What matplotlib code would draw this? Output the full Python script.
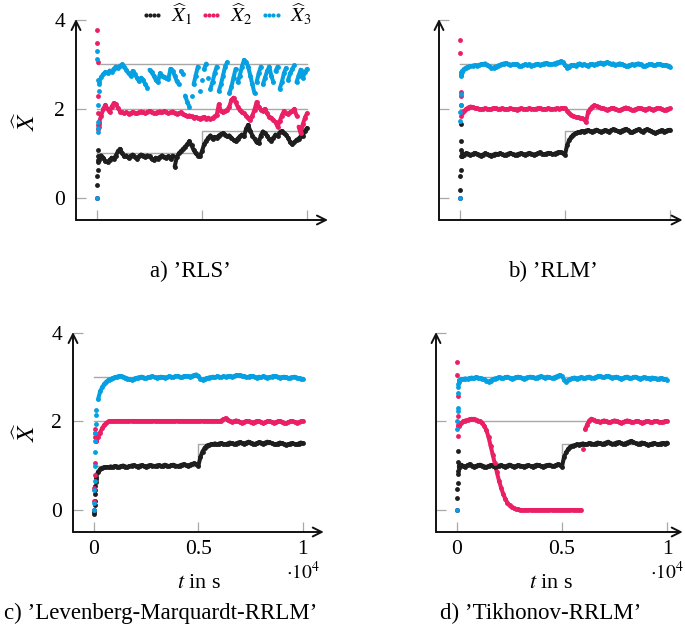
import numpy as np
import matplotlib
matplotlib.use("Agg")
import matplotlib.pyplot as plt
from matplotlib.collections import LineCollection
from matplotlib.lines import Line2D

plt.rcParams["font.family"] = ["Liberation Serif", "DejaVu Serif"]
plt.rcParams["mathtext.fontset"] = "stix"

BLACK = "#1e1e1e"
PINK = "#ea1f66"
BLUE = "#05a0e2"
GRAY = "#a8a8a8"

# sample times: first 90 s are the start-up samples, then every 100 s
t_start = [0, 10, 20, 30, 40, 50, 60, 70, 80, 90]
t_grid = np.arange(100, 10001, 100)

# true parameter values
true_t = [0, 5000, 5000, 10000]
true_x1 = [1.0, 1.0, 1.5, 1.5]
true_x2 = [2.0, 2.0, 2.0, 2.0]
true_x3 = [3.0, 3.0, 3.0, 3.0]

# a) RLS
rls_x1_start = [0.0, 0.29, 0.48, 0.63, 0.85, 1.08, 0.95, 0.80, 0.90, 0.85]
rls_x2_start = [0.0, 3.78, 3.49, 3.06, 2.28, 1.91, 1.64, 1.55, 1.60, 1.65]
rls_x3_start = [0.0, 3.31, 3.12, 2.65, 2.09, 1.57, 1.49, 1.70, 2.40, 2.55]
rls_x1 = [
    0.92, 0.95, 0.90, 0.82, 0.80, 0.85, 0.90, 0.88, 0.95, 1.05,
    1.10, 1.00, 0.93, 0.95, 0.90, 0.94, 0.97, 0.92, 0.88, 0.93,
    0.97, 0.95, 0.92, 0.95, 0.93, 0.88, 0.85, 0.90, 0.87, 0.92,
    0.95, 0.92, 0.90, 0.93, 0.88, 0.95, 0.70, 0.92, 1.00, 1.05,
    1.10, 1.15, 1.20, 1.27, 1.18, 1.08, 1.00, 0.95, 0.93, 1.05,
    1.20, 1.28, 1.35, 1.40, 1.33, 1.37, 1.35, 1.40, 1.43, 1.45,
    1.42, 1.38, 1.40, 1.35, 1.30, 1.27, 1.33, 1.38, 1.42, 1.38,
    1.55, 1.64, 1.50, 1.40, 1.33, 1.25, 1.23, 1.40, 1.49, 1.45,
    1.40, 1.32, 1.28, 1.35, 1.42, 1.40, 1.47, 1.50, 1.45, 1.42,
    1.35, 1.25, 1.20, 1.25, 1.30, 1.33, 1.38, 1.40, 1.50, 1.57,
]
rls_x2 = [
    1.70, 1.85, 2.00, 2.09, 2.00, 1.93, 2.05, 2.13, 2.10, 2.02,
    1.94, 1.92, 1.90, 1.92, 1.89, 1.90, 1.93, 1.91, 1.90, 1.92,
    1.94, 1.92, 1.90, 1.93, 1.95, 1.92, 1.90, 1.91, 1.93, 1.94,
    1.92, 1.95, 1.93, 1.90, 1.92, 1.94, 1.91, 1.89, 1.90, 1.92,
    1.88, 1.86, 1.84, 1.85, 1.83, 1.80, 1.82, 1.79, 1.78, 1.80,
    1.82, 1.78, 1.80, 1.77, 1.79, 1.83, 1.86, 2.10, 1.95, 1.92,
    1.95, 1.98, 2.05, 2.20, 2.25, 2.15, 2.05, 1.97, 1.92, 1.90,
    1.85, 1.80, 1.75, 1.85, 1.98, 2.15, 2.05, 1.98, 1.95, 2.00,
    1.90, 1.82, 1.80, 1.75, 1.70, 1.60, 1.72, 1.85, 1.95, 1.90,
    1.88, 1.92, 1.95, 2.00, 1.85, 1.60, 1.45, 1.65, 1.80, 1.90,
]
rls_x3 = [
    2.60, 2.72, 2.78, 2.83, 2.80, 2.86, 2.84, 2.90, 2.95, 2.92,
    2.97, 3.00, 2.95, 2.88, 2.80, 2.75, 2.85, 2.78, 2.70, 2.62,
    2.70, 2.65, 2.55, 2.48, 2.88, 2.82, 2.75, 2.65, 2.60, 2.80,
    2.75, 2.72, 2.70, 2.68, 2.90, 2.85, 2.75, 2.62, 2.55, 2.85,
    2.78, 2.30, 2.15, 2.05, 2.30, 2.55, 2.75, 2.95, 2.40, 2.65,
    2.90, 3.02, 2.70, 2.45, 2.60, 2.80, 2.95, 2.40, 2.55, 2.75,
    2.95, 3.05, 2.35, 2.50, 2.70, 2.90, 2.60, 2.75, 2.95, 3.10,
    3.05, 2.95, 2.75, 2.55, 2.35, 2.60, 2.80, 2.95, 2.55, 2.70,
    2.85, 2.95, 2.75, 2.60, 2.85, 2.95, 2.45, 2.60, 2.80, 2.92,
    2.65, 2.80, 2.90, 2.98, 2.60, 2.75, 2.88, 2.70, 2.82, 2.90,
]

# b) RLM
rlm_x1_start = [0.0, 0.18, 0.48, 0.63, 1.08, 1.27, 1.66, 0.95, 1.00, 0.94]
rlm_x2_start = [0.0, 3.55, 3.25, 2.76, 2.39, 2.28, 2.09, 1.85, 1.90, 1.92]
rlm_x3_start = [0.0, 1.73, 1.94, 2.09, 2.34, 2.73, 2.80, 2.82, 2.84, 2.85]
rlm_x1 = [
    0.93, 0.97, 1.00, 0.99, 0.96, 0.98, 1.01, 0.99, 0.97, 0.95,
    0.97, 1.00, 0.98, 0.96, 0.95, 0.97, 0.99, 0.98, 1.00, 0.98,
    0.96, 0.97, 0.99, 1.01, 0.98, 0.96, 0.97, 0.99, 1.00, 0.98,
    0.97, 0.99, 1.01, 0.99, 0.97, 0.98, 1.00, 1.02, 0.99, 0.98,
    0.99, 1.01, 1.00, 0.98, 0.99, 1.01, 1.03, 1.02, 1.00, 0.97,
    1.18, 1.30, 1.37, 1.42, 1.45, 1.47, 1.48, 1.50, 1.49, 1.51,
    1.52, 1.50, 1.49, 1.51, 1.53, 1.50, 1.48, 1.50, 1.52, 1.51,
    1.49, 1.52, 1.54, 1.53, 1.50, 1.48, 1.51, 1.53, 1.55, 1.52,
    1.49, 1.47, 1.50, 1.52, 1.54, 1.51, 1.49, 1.52, 1.54, 1.52,
    1.50, 1.47, 1.45, 1.48, 1.50, 1.52, 1.49, 1.50, 1.52, 1.53,
]
rlm_x2 = [
    1.92, 1.95, 2.00, 2.03, 2.05, 2.04, 2.02, 2.01, 2.00, 1.99,
    2.00, 2.01, 2.00, 1.99, 2.00, 2.02, 2.01, 1.99, 2.00, 2.01,
    2.00, 1.99, 2.00, 2.01, 2.00, 1.99, 1.98, 2.00, 2.01, 2.00,
    1.99, 2.00, 2.01, 2.00, 1.99, 2.00, 2.01, 2.02, 2.00, 1.99,
    2.00, 2.01, 2.00, 1.99, 2.00, 2.01, 2.00, 2.01, 2.02, 2.01,
    1.96, 1.90, 1.86, 1.84, 1.82, 1.81, 1.80, 1.79, 1.77, 1.70,
    1.93, 2.00, 2.05, 2.08, 2.06, 2.04, 2.02, 2.01, 2.00, 1.98,
    1.99, 2.01, 2.02, 2.00, 1.98, 1.97, 1.99, 2.01, 2.03, 2.01,
    1.99, 1.97, 1.98, 2.00, 2.02, 2.01, 1.99, 1.98, 2.00, 2.01,
    1.99, 1.98, 2.00, 2.02, 2.01, 1.99, 1.97, 1.98, 2.00, 2.01,
]
rlm_x3 = [
    2.85, 2.90, 2.93, 2.95, 2.96, 2.97, 2.98, 2.97, 2.99, 3.00,
    3.01, 3.02, 2.99, 2.96, 2.92, 2.93, 2.95, 2.97, 2.99, 3.01,
    3.02, 3.03, 3.01, 2.99, 3.00, 3.01, 3.00, 2.97, 2.96, 2.98,
    3.00, 2.99, 3.00, 2.97, 2.98, 3.00, 3.01, 2.99, 3.00, 3.02,
    3.03, 3.02, 3.00, 3.01, 3.02, 3.04, 3.05, 3.07, 3.05, 2.98,
    2.93, 2.95, 2.98, 2.99, 2.97, 3.00, 3.02, 2.99, 3.00, 2.98,
    2.97, 3.00, 3.01, 2.99, 3.01, 3.03, 3.04, 3.02, 3.03, 3.05,
    3.03, 3.01, 3.02, 2.99, 3.00, 3.02, 3.01, 2.98, 2.96, 2.97,
    2.99, 3.00, 2.99, 3.01, 3.02, 3.00, 2.97, 2.96, 2.98, 3.00,
    3.01, 2.99, 2.98, 3.00, 3.01, 2.99, 2.98, 2.99, 2.97, 2.95,
]

# c) Levenberg-Marquardt-RRLM
lm_x1_start = [0.0, -0.10, -0.05, 0.10, 0.20, 0.35, 0.45, 0.55, 0.62, 0.70]
lm_x2_start = [0.0, 0.20, 0.50, 0.78, 1.07, 1.65, 1.82, 1.75, 1.60, 1.55]
lm_x3_start = [0.0, 0.15, 0.45, 0.65, 1.00, 1.30, 1.55, 1.75, 1.95, 2.15]
lm_x1 = [
    0.75, 0.86, 0.92, 0.95, 0.96, 0.97, 0.96, 0.98, 0.97, 0.99,
    0.98, 0.97, 0.99, 1.00, 0.98, 0.97, 0.99, 1.00, 1.01, 0.99,
    0.98, 1.00, 1.01, 0.99, 0.98, 1.00, 1.01, 1.00, 0.99, 1.00,
    1.01, 0.99, 1.00, 1.02, 1.00, 0.99, 1.01, 1.02, 1.00, 0.99,
    1.00, 1.02, 1.03, 1.01, 1.00, 1.02, 1.04, 1.05, 1.03, 1.00,
    1.20, 1.32, 1.40, 1.45, 1.47, 1.48, 1.49, 1.50, 1.48, 1.50,
    1.51, 1.49, 1.48, 1.50, 1.52, 1.51, 1.49, 1.50, 1.52, 1.53,
    1.51, 1.50, 1.52, 1.54, 1.52, 1.50, 1.49, 1.51, 1.53, 1.52,
    1.50, 1.52, 1.54, 1.53, 1.51, 1.49, 1.48, 1.50, 1.52, 1.51,
    1.49, 1.47, 1.48, 1.50, 1.51, 1.49, 1.48, 1.50, 1.52, 1.51,
]
lm_x2 = [
    1.55, 1.65, 1.75, 1.85, 1.92, 1.97, 2.00, 2.01, 2.00, 2.00,
    2.00, 2.00, 2.00, 2.00, 2.00, 2.00, 2.00, 2.00, 2.00, 2.00,
    2.00, 2.00, 2.00, 2.00, 2.00, 2.00, 2.00, 2.00, 2.00, 2.00,
    2.00, 2.00, 2.00, 2.00, 2.00, 2.00, 2.00, 2.00, 2.00, 2.00,
    2.00, 2.00, 2.00, 2.00, 2.00, 2.00, 2.00, 2.00, 2.00, 2.00,
    2.00, 2.00, 2.00, 2.00, 2.00, 2.00, 2.00, 2.00, 2.00, 2.00,
    2.02, 2.05, 2.07, 2.04, 2.01, 1.99, 2.00, 2.02, 2.01, 1.98,
    1.97, 1.99, 2.01, 2.00, 1.98, 1.97, 1.99, 2.01, 2.00, 1.98,
    1.96, 1.98, 2.00, 2.01, 1.99, 1.97, 1.98, 2.00, 2.01, 1.99,
    1.97, 1.96, 1.98, 2.00, 2.01, 1.99, 1.97, 1.98, 2.00, 2.01,
]
lm_x3 = [
    2.25, 2.50, 2.68, 2.78, 2.85, 2.90, 2.94, 2.96, 2.98, 3.00,
    3.01, 3.02, 3.02, 3.01, 2.99, 2.97, 2.95, 2.94, 2.96, 2.98,
    2.99, 3.00, 3.01, 2.99, 2.98, 3.00, 3.01, 3.02, 3.00, 2.99,
    3.00, 3.01, 3.00, 2.99, 3.00, 3.02, 3.01, 3.00, 3.02, 3.03,
    3.01, 3.00, 3.02, 3.03, 3.02, 3.01, 3.03, 3.05, 3.06, 3.03,
    2.96, 2.94, 2.96, 2.98, 2.99, 3.00, 3.01, 3.00, 3.02, 3.01,
    3.00, 3.02, 3.01, 3.02, 3.03, 3.01, 3.02, 3.04, 3.05, 3.04,
    3.03, 3.02, 3.00, 3.01, 3.03, 3.02, 3.00, 2.99, 3.01, 3.00,
    3.02, 3.01, 2.99, 3.00, 3.01, 3.03, 3.02, 3.00, 2.99, 3.00,
    3.01, 3.00, 2.98, 2.99, 3.00, 3.01, 2.99, 2.98, 2.97, 2.96,
]

# d) Tikhonov-RRLM
tik_x1_start = [0.0, 0.26, 0.47, 0.61, 0.81, 0.88, 1.08, 1.33, 0.95, 1.00]
tik_x2_start = [0.0, 3.34, 3.05, 2.57, 2.13, 1.67, 1.90, 1.92, 1.93, 1.90]
tik_x3_start = [0.0, 1.82, 2.00, 2.24, 2.30, 2.64, 2.78, 2.85, 2.90, 2.92]
tik_x1 = [
    1.00, 1.02, 0.99, 0.98, 1.01, 1.03, 1.00, 0.98, 0.99, 1.01,
    1.02, 1.00, 0.98, 0.97, 0.99, 1.01, 1.00, 0.98, 0.99, 1.00,
    1.01, 0.99, 0.98, 1.00, 1.02, 1.00, 0.98, 0.99, 1.01, 1.00,
    0.99, 0.98, 1.00, 1.01, 0.99, 0.98, 1.00, 1.02, 1.01, 0.99,
    0.98, 1.00, 1.01, 1.02, 1.00, 0.99, 1.01, 1.03, 1.02, 0.98,
    1.20, 1.30, 1.38, 1.43, 1.45, 1.46, 1.48, 1.47, 1.49, 1.50,
    1.48, 1.49, 1.51, 1.50, 1.48, 1.50, 1.52, 1.51, 1.49, 1.50,
    1.52, 1.54, 1.51, 1.49, 1.50, 1.52, 1.53, 1.51, 1.49, 1.50,
    1.52, 1.54, 1.56, 1.53, 1.51, 1.49, 1.50, 1.52, 1.51, 1.49,
    1.47, 1.48, 1.50, 1.51, 1.49, 1.48, 1.50, 1.51, 1.50, 1.52,
]
tik_x2 = [
    1.92, 1.96, 2.00, 2.02, 2.03, 2.05, 2.06, 2.06, 2.04, 2.02,
    2.00, 1.96, 1.90, 1.80, 1.65, 1.45, 1.25, 1.05, 0.85, 0.66,
    0.50, 0.36, 0.25, 0.16, 0.10, 0.06, 0.04, 0.02, 0.01, 0.00,
    0.00, 0.00, 0.00, 0.00, 0.00, 0.00, 0.00, 0.00, 0.00, 0.00,
    0.00, 0.00, 0.00, 0.00, 0.00, 0.00, 0.00, 0.00, 0.00, 0.00,
    0.00, 0.00, 0.00, 0.00, 0.00, 0.00, 0.00, 0.00, 0.00, 1.37,
    1.82, 1.93, 2.02, 2.06, 2.04, 2.01, 2.00, 1.98, 2.00, 2.02,
    2.01, 1.99, 1.98, 2.00, 2.02, 2.01, 1.99, 1.97, 1.98, 2.00,
    2.02, 2.01, 1.99, 1.98, 2.00, 2.01, 1.99, 1.97, 1.98, 2.00,
    2.01, 1.99, 1.98, 2.00, 2.01, 1.99, 1.98, 1.99, 2.00, 2.01,
]
tik_x3 = [
    2.93, 2.95, 2.96, 2.97, 2.96, 2.98, 2.99, 2.98, 3.00, 2.99,
    2.98, 2.97, 2.95, 2.92, 2.90, 2.92, 2.95, 2.97, 2.98, 3.00,
    2.99, 2.98, 3.00, 3.01, 2.99, 2.97, 2.98, 3.00, 3.01, 3.00,
    2.98, 2.97, 2.99, 3.00, 3.01, 3.00, 2.98, 2.99, 3.01, 3.02,
    3.00, 2.99, 3.01, 3.00, 2.98, 2.99, 3.01, 3.03, 3.05, 3.02,
    2.94, 2.90, 2.93, 2.96, 2.98, 2.99, 2.97, 2.98, 3.00, 2.99,
    2.98, 3.00, 3.01, 2.99, 2.98, 3.00, 3.02, 3.03, 3.01, 3.00,
    3.02, 3.03, 3.01, 2.99, 3.00, 3.01, 2.99, 2.97, 2.98, 3.00,
    3.01, 2.99, 2.98, 3.00, 3.01, 2.99, 2.97, 2.98, 3.00, 2.99,
    2.98, 2.97, 2.99, 2.98, 2.97, 2.96, 2.98, 2.97, 2.95, 2.93,
]

W, H = 685, 627


def fx(px):
    return px / W


def fy(py):
    return 1 - py / H


def draw_series(ax, start, values, color):
    t = np.concatenate([t_start, t_grid])
    y = np.concatenate([start, values])
    vals = np.asarray(values)
    # join neighbouring samples of the settled part, leave the jumps open
    segs = [[(t_grid[i], vals[i]), (t_grid[i + 1], vals[i + 1])]
            for i in range(len(vals) - 1) if abs(vals[i + 1] - vals[i]) < 0.25]
    ax.add_collection(LineCollection(segs, colors=color, linewidths=2.9,
                                     capstyle="round", zorder=3))
    ax.plot(t, y, ls="none", marker="o", ms=3.5, mew=0, color=color, zorder=4)


def setup_axes(ax, xmax):
    ax.set_xlim(-1000, xmax)
    ax.set_ylim(-0.5, 4)
    for s in ax.spines.values():
        s.set_visible(False)
    arrow = dict(arrowstyle="->", lw=1.4, color="#111111", shrinkA=0, shrinkB=0,
                 mutation_scale=16)
    ax.annotate("", xy=(1, 0), xytext=(0, 0), xycoords="axes fraction", arrowprops=arrow)
    ax.annotate("", xy=(0, 1.005), xytext=(0, 0), xycoords="axes fraction", arrowprops=arrow)
    ax.set_xticks([0, 5000, 10000])
    ax.set_yticks([0, 2, 4])
    ax.tick_params(direction="in", length=7.5, width=0.9, color=GRAY, labelsize=15.5,
                   pad=5.5)
    ax.tick_params(axis="y", pad=8)
    ax.plot(true_t, true_x1, color=GRAY, lw=1, zorder=1)
    ax.plot(true_t, true_x2, color=GRAY, lw=1, zorder=1)
    ax.plot(true_t, true_x3, color=GRAY, lw=1, zorder=1)


fig = plt.figure(figsize=(W / 100, H / 100), dpi=100)

# axes placed in pixels: left spine, bottom spine, width, height
ax_a = fig.add_axes([fx(76), fy(220), 12000 * 0.021 / W, 200 / H])
ax_b = fig.add_axes([fx(439), fy(220), 11600 * 0.021 / W, 200 / H])
ax_c = fig.add_axes([fx(73), fy(532), 12000 * 0.0209 / W, 199 / H])
ax_d = fig.add_axes([fx(436), fy(532), 11750 * 0.021 / W, 199 / H])

panels = [
    (ax_a, 11000, [(rls_x1_start, rls_x1), (rls_x2_start, rls_x2), (rls_x3_start, rls_x3)]),
    (ax_b, 10600, [(rlm_x1_start, rlm_x1), (rlm_x2_start, rlm_x2), (rlm_x3_start, rlm_x3)]),
    (ax_c, 11000, [(lm_x1_start, lm_x1), (lm_x2_start, lm_x2), (lm_x3_start, lm_x3)]),
    (ax_d, 10750, [(tik_x1_start, tik_x1), (tik_x2_start, tik_x2), (tik_x3_start, tik_x3)]),
]
colors = [BLACK, PINK, BLUE]

for ax, xmax, series in panels:
    setup_axes(ax, xmax)
    for (start, vals), c in zip(series, colors):
        draw_series(ax, start, vals, c)

for ax in (ax_a, ax_b):
    ax.set_xticklabels([])
for ax in (ax_b, ax_d):
    ax.set_yticklabels([])
for ax in (ax_c, ax_d):
    ax.set_xticklabels(["0", "0.5", "1"])

# y labels
fig.text(fx(27), fy(121), r"$\widehat{X}$", rotation=90, ha="center", va="center", fontsize=18)
fig.text(fx(27), fy(432), r"$\widehat{X}$", rotation=90, ha="center", va="center", fontsize=18)

# x labels and scale factors
for xc, xs in ((199, 303), (551, 667)):
    fig.text(fx(xc), fy(584), r"$t$ in s", ha="center", va="center", fontsize=16)
    fig.text(fx(xs), fy(572), r"$\cdot10^{4}$", ha="center", va="center", fontsize=14)

# captions
cap = 16.5
fig.text(fx(190), fy(277), "a) \u2019RLS\u2019", ha="center", va="baseline", fontsize=cap)
fig.text(fx(553), fy(277), "b) \u2019RLM\u2019", ha="center", va="baseline", fontsize=cap)
fig.text(fx(161), fy(619), "c) \u2019Levenberg-Marquardt-RRLM\u2019", ha="center",
         va="baseline", fontsize=cap)
fig.text(fx(541), fy(619), "d) \u2019Tikhonov-RRLM\u2019", ha="center", va="baseline",
         fontsize=cap)

handles = [Line2D([0], [0], ls="none", marker="o", ms=3.0, mew=0, color=c) for c in colors]
fig.legend(handles, [r"$\widehat{X}_1$", r"$\widehat{X}_2$", r"$\widehat{X}_3$"],
           loc="center right", bbox_to_anchor=(fx(312), fy(15)), ncol=3, frameon=False,
           numpoints=4, handlelength=1.2, handletextpad=0.3, columnspacing=0.3,
           borderaxespad=0, borderpad=0, fontsize=15)

fig.savefig("out.png", dpi=100)
